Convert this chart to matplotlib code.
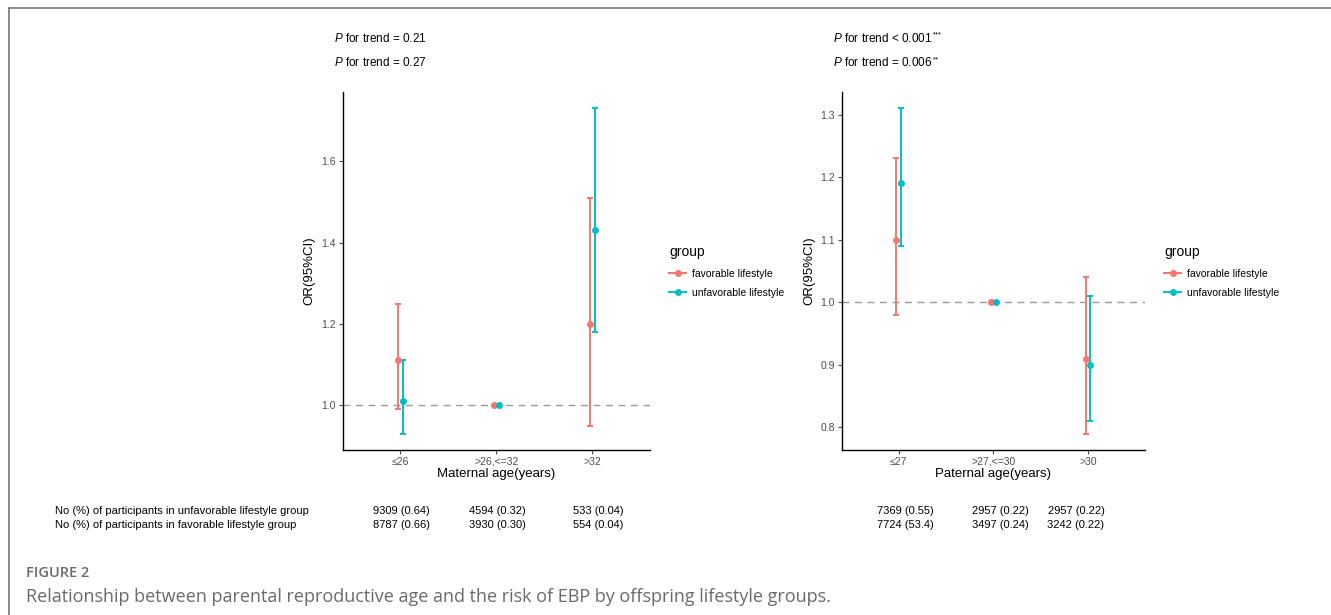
import matplotlib
matplotlib.use('Agg')
import matplotlib.pyplot as plt
from matplotlib.lines import Line2D
import numpy as np

plt.rcParams['font.family'] = ['Liberation Sans', 'DejaVu Sans']
plt.rcParams['mathtext.fontset'] = 'custom'
plt.rcParams['mathtext.rm'] = 'Liberation Sans'
plt.rcParams['mathtext.it'] = 'Liberation Sans:italic'

# --- DATA ---
groups = ["favorable lifestyle", "unfavorable lifestyle"]
colors = ['#F8766D', '#00BFC4']

mat_cats = ["≤26", ">26,<=32", ">32"]
mat_or_fav = [1.11, 1.00, 1.20]
mat_lo_fav = [0.99, 1.00, 0.95]
mat_hi_fav = [1.25, 1.00, 1.51]
mat_or_unf = [1.01, 1.00, 1.43]
mat_lo_unf = [0.93, 1.00, 1.18]
mat_hi_unf = [1.11, 1.00, 1.73]
mat_ticks = [1.0, 1.2, 1.4, 1.6]
mat_p = ["$\\it{P}$ for trend = 0.21", "$\\it{P}$ for trend = 0.27"]
mat_stars = ["", ""]
mat_unf_n = ["9309 (0.64)", "4594 (0.32)", "533 (0.04)"]
mat_fav_n = ["8787 (0.66)", "3930 (0.30)", "554 (0.04)"]

pat_cats = ["≤27", ">27,<=30", ">30"]
pat_or_fav = [1.10, 1.00, 0.91]
pat_lo_fav = [0.98, 1.00, 0.79]
pat_hi_fav = [1.23, 1.00, 1.04]
pat_or_unf = [1.19, 1.00, 0.90]
pat_lo_unf = [1.09, 1.00, 0.81]
pat_hi_unf = [1.31, 1.00, 1.01]
pat_ticks = [0.8, 0.9, 1.0, 1.1, 1.2, 1.3]
pat_p = ["$\\it{P}$ for trend < 0.001", "$\\it{P}$ for trend = 0.006"]
pat_stars = ["***", "**"]
pat_unf_n = ["7369 (0.55)", "2957 (0.22)", "2957 (0.22)"]
pat_fav_n = ["7724 (53.4)", "3497 (0.24)", "3242 (0.22)"]

row_labels = ["No (%) of participants in unfavorable lifestyle group",
              "No (%) of participants in favorable lifestyle group"]

W, H = 1331, 615
fig = plt.figure(figsize=(13.31, 6.15), dpi=100)

def fx(px): return px / W
def fy(py): return 1 - py / H

# frame lines of the figure box
fig.add_artist(Line2D([fx(9), 1], [fy(8), fy(8)], color='#777777', lw=1.2))
fig.add_artist(Line2D([fx(9), fx(9)], [fy(8), 0], color='#777777', lw=1.2))


def panel(left_px, right_px, cats, series, ylim, ticks, xlabel, ptexts, stars, leg_x):
    ax = fig.add_axes([fx(left_px), fy(450), fx(right_px - left_px), (450 - 92) / H])
    x = np.arange(1, len(cats) + 1)
    ax.axhline(1.0, color='#999999', lw=1, ls=(0, (5, 4)), zorder=1)
    for k, (orv, lo, hi) in enumerate(series):
        xs = x + (-0.026 if k == 0 else 0.026)
        orv = np.array(orv); lo = np.array(lo); hi = np.array(hi)
        ax.errorbar(xs, orv, yerr=[orv - lo, hi - orv], fmt='o', color=colors[k],
                    ms=4, elinewidth=1.4, capsize=2.2, capthick=1.4, zorder=3)
    ax.set_xlim(0.4, len(cats) + 0.6)
    ax.set_ylim(*ylim)
    ax.set_xticks(x)
    ax.set_xticklabels(cats)
    ax.set_yticks(ticks)
    ax.set_yticklabels([f"{t:.1f}" for t in ticks])
    ax.tick_params(colors='#4D4D4D', labelsize=7.5, length=3, width=0.8, pad=2)
    for s in ['top', 'right']:
        ax.spines[s].set_visible(False)
    for s in ['left', 'bottom']:
        ax.spines[s].set_linewidth(1.0)
    ax.set_xlabel(xlabel, fontsize=9.5, labelpad=1)
    ax.set_ylabel("OR(95%CI)", fontsize=9.5, labelpad=4)
    # P for trend, with superscript stars
    for yy, txt, st in zip([38, 63], ptexts, stars):
        t = fig.text(fx(left_px - 9), fy(yy), txt, fontsize=8.5, va='center')
        if st:
            ax.annotate(st, xy=(1, 1), xycoords=t, xytext=(0.3, 0),
                        textcoords='offset points', fontsize=5.5,
                        va='top', ha='left', annotation_clip=False)
    # legend
    handles = [Line2D([], [], color=c, marker='o', ms=4, lw=1.4) for c in colors]
    leg = fig.legend(handles, groups, loc='upper left',
                     bbox_to_anchor=(fx(leg_x), fy(236)), frameon=False,
                     title='group', fontsize=7.5, title_fontsize=10,
                     handlelength=1.6, handletextpad=0.6, labelspacing=0.9)
    leg._legend_box.align = 'left'
    return ax

ax1 = panel(343, 649.6, mat_cats,
            [(mat_or_fav, mat_lo_fav, mat_hi_fav), (mat_or_unf, mat_lo_unf, mat_hi_unf)],
            (0.89, 1.77), mat_ticks, "Maternal age(years)", mat_p, mat_stars, 660)
ax2 = panel(842, 1144.8, pat_cats,
            [(pat_or_fav, pat_lo_fav, pat_hi_fav), (pat_or_unf, pat_lo_unf, pat_hi_unf)],
            (0.764, 1.336), pat_ticks, "Paternal age(years)", pat_p, pat_stars, 1155)

# count table below the panels
fig.text(fx(55), fy(511), row_labels[0], fontsize=8, va='center')
fig.text(fx(55), fy(525), row_labels[1], fontsize=8, va='center')
for xc, a, b in zip([401, 497, 598], mat_unf_n, mat_fav_n):
    fig.text(fx(xc), fy(511), a, fontsize=8, va='center', ha='center')
    fig.text(fx(xc), fy(525), b, fontsize=8, va='center', ha='center')
for xc, a, b in zip([905, 1000, 1076], pat_unf_n, pat_fav_n):
    fig.text(fx(xc), fy(511), a, fontsize=8, va='center', ha='center')
    fig.text(fx(xc), fy(525), b, fontsize=8, va='center', ha='center')

# caption
fig.text(fx(26), fy(573), "FIGURE 2", fontsize=10.5, color='#6a6a6a', va='center',
         family=['Open Sans', 'DejaVu Sans'], weight='semibold')
fig.text(fx(26), fy(597),
         "Relationship between parental reproductive age and the risk of EBP by offspring lifestyle groups.",
         fontsize=13, color='#6a6a6a', va='center', family=['Open Sans', 'DejaVu Sans'])

fig.savefig('out.png', dpi=100)
